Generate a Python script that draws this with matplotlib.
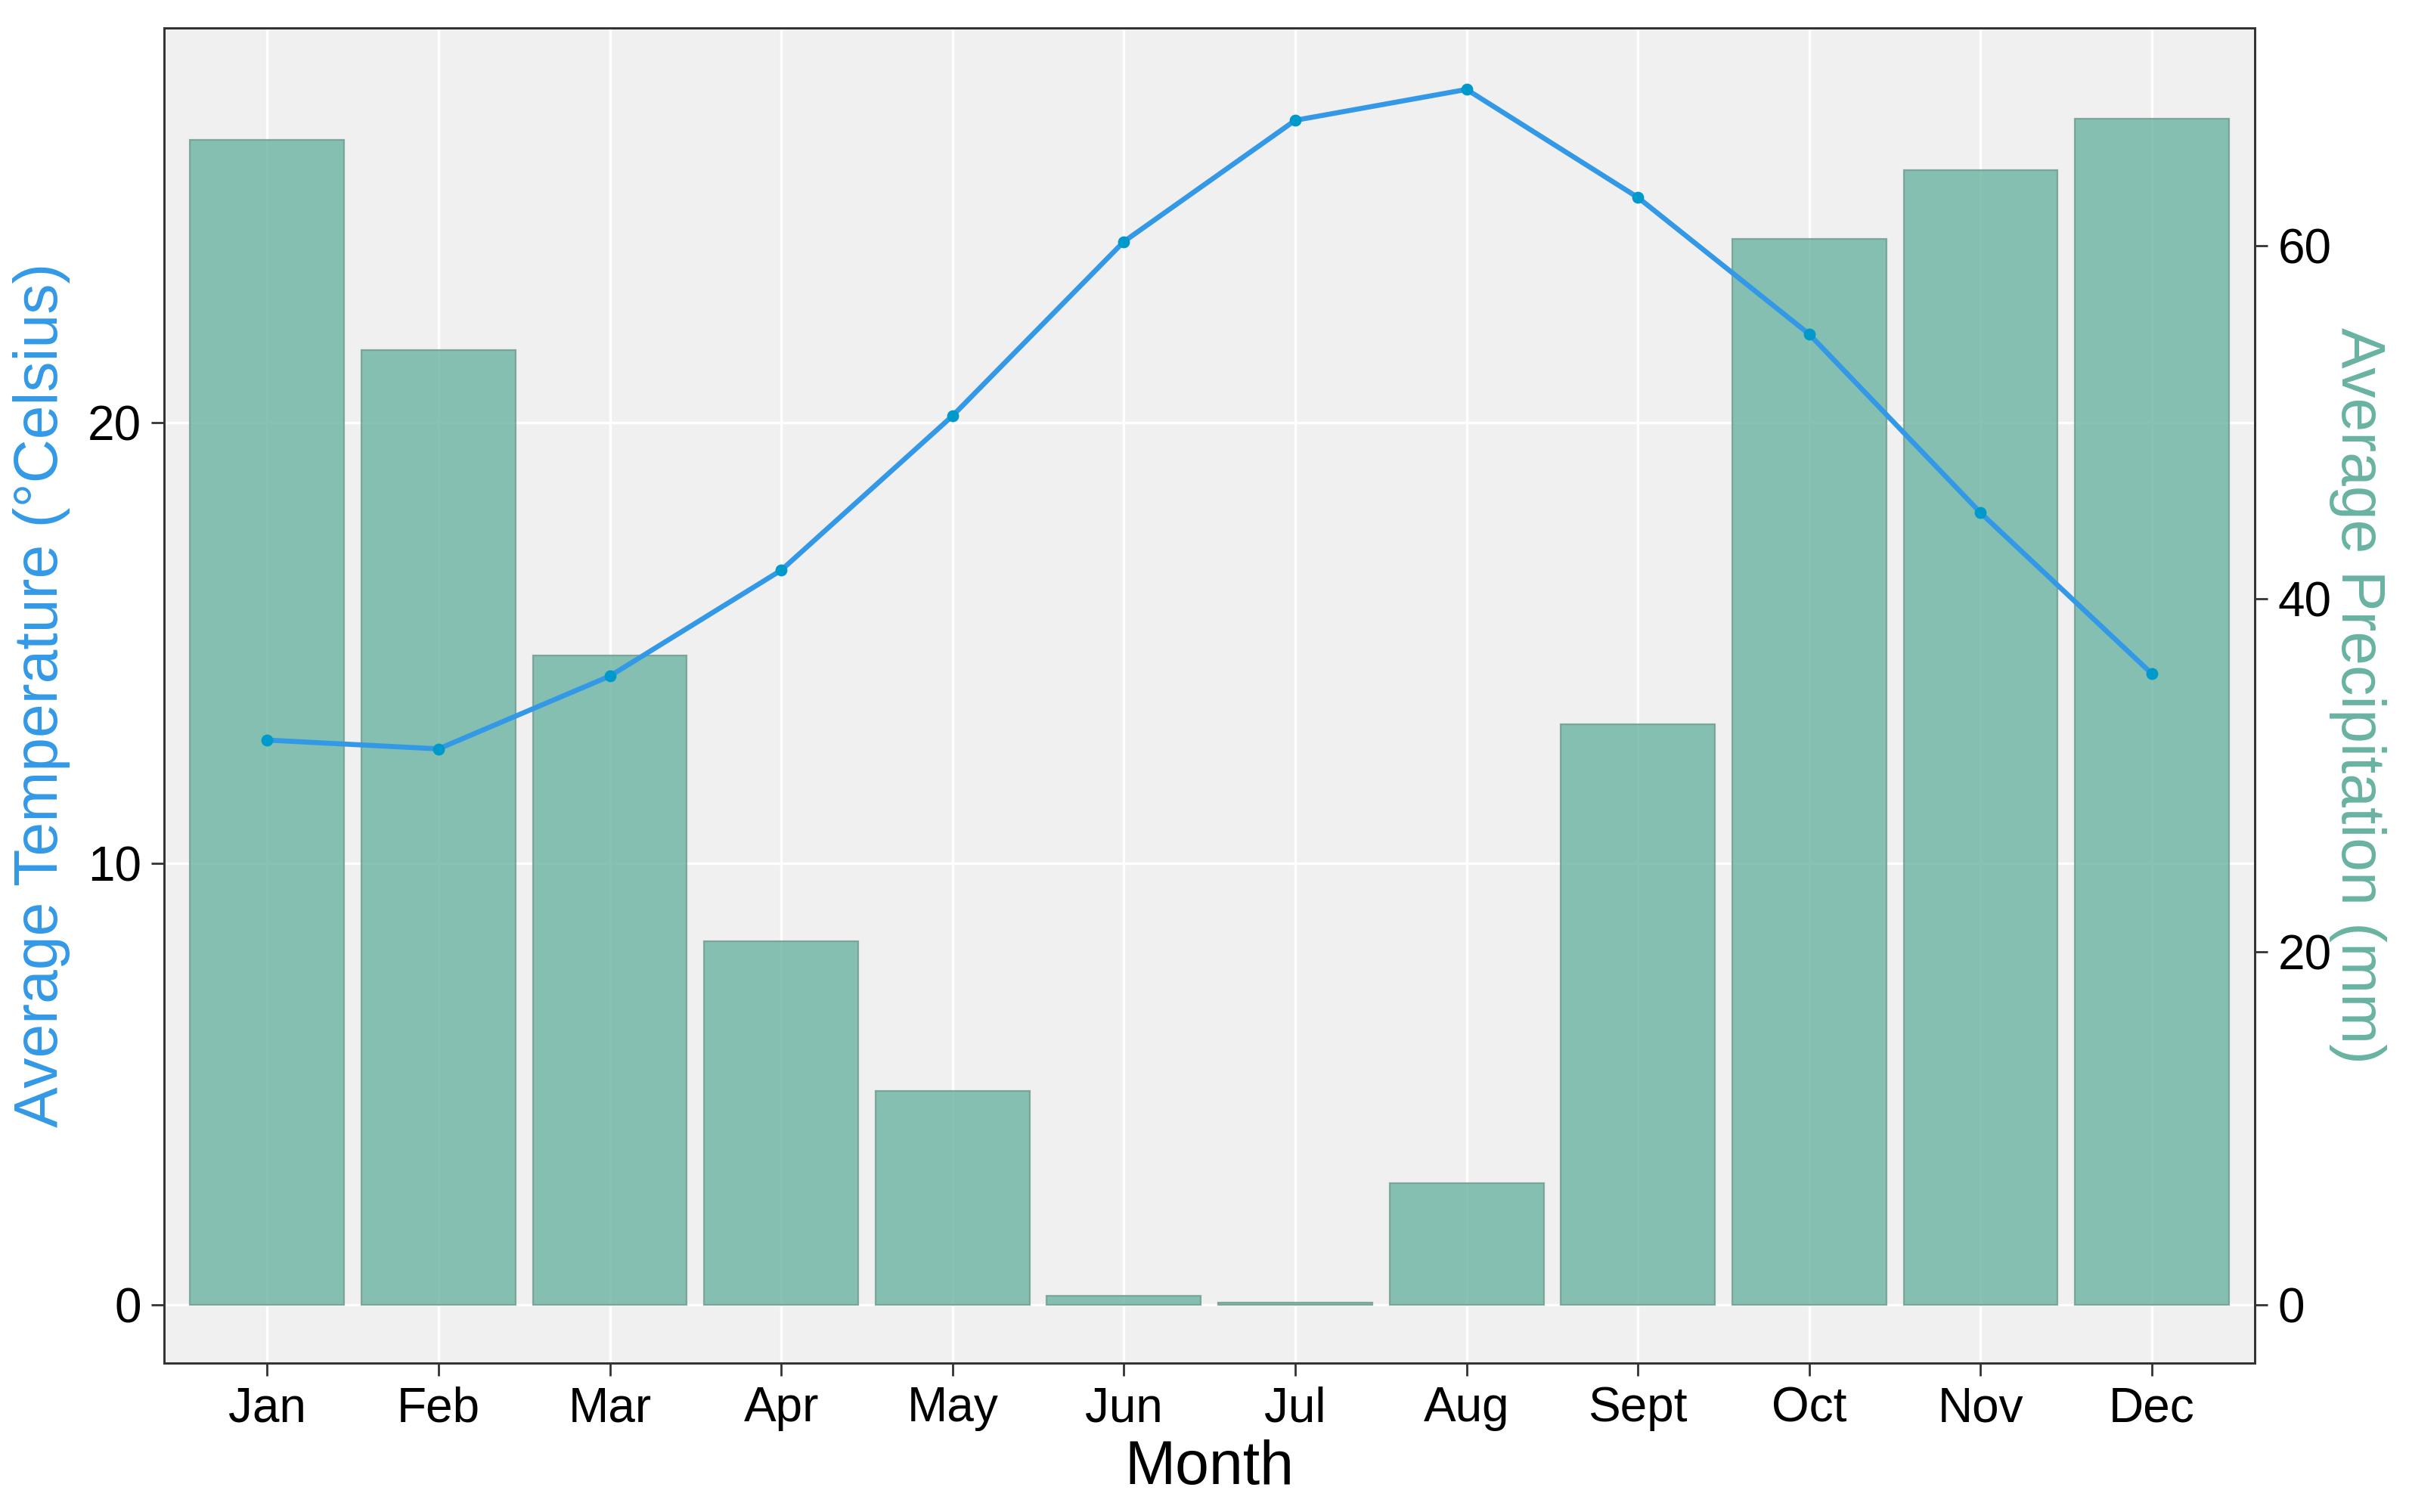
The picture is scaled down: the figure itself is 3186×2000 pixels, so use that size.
import matplotlib
matplotlib.use("Agg")
import matplotlib.pyplot as plt
import numpy as np

months = ["Jan", "Feb", "Mar", "Apr", "May", "Jun", "Jul", "Aug", "Sept", "Oct", "Nov", "Dec"]
temperature = [12.8, 12.6, 14.25, 16.65, 20.15, 24.1, 26.85, 27.55, 25.1, 22.0, 17.95, 14.3]
precipitation = [66.0, 54.1, 36.8, 20.6, 12.1, 0.5, 0.1, 6.9, 32.9, 60.4, 64.3, 67.2]

left_ticks = [0, 10, 20]
right_ticks = [0, 20, 40, 60]
coeff = 2.5  # precipitation = temperature * coeff

temp_color = "#3399E6"
precip_color = "#69b3a2"

plt.rcParams['font.family'] = ['Liberation Sans', 'DejaVu Sans']

fig = plt.figure(figsize=(15.93, 10.0), dpi=200)
ax = fig.add_axes([0.0682, 0.0986, 0.936 - 0.0682, 0.9817 - 0.0986])
ax.set_facecolor("#F0F0F0")

x = np.arange(len(months))
prec_scaled = [p / coeff for p in precipitation]
ax.bar(x, prec_scaled, width=0.9, color=precip_color, alpha=0.8,
       edgecolor="#6f9a8e", linewidth=0.8, zorder=2)
ax.plot(x, temperature, color=temp_color, linewidth=2.4, zorder=3)
ax.scatter(x, temperature, color="#0099CC", s=22, zorder=4)

ax.set_xlim(-0.6, len(months) - 0.4)
ax.set_ylim(-1.32, 28.95)
ax.set_xticks(x)
ax.set_xticklabels(months, fontsize=23)
ax.set_yticks(left_ticks)
ax.set_yticklabels([str(t) for t in left_ticks], fontsize=23)
ax.grid(True, color="white", linewidth=1.2, zorder=0)
ax.set_axisbelow(True)
for s in ax.spines.values():
    s.set_color("#333333")
    s.set_linewidth(1.0)
ax.tick_params(axis="both", length=6, width=1.0, color="#333333", pad=5)

ax.set_xlabel("Month", fontsize=29, labelpad=4)
ax.set_ylabel("Average Temperature (°Celsius)", fontsize=29, color=temp_color, labelpad=8)

ax2 = ax.twinx()
lo, hi = ax.get_ylim()
ax2.set_ylim(lo * coeff, hi * coeff)
ax2.set_yticks(right_ticks)
ax2.set_yticklabels([str(t) for t in right_ticks], fontsize=23)
ax2.tick_params(axis="y", length=6, width=1.0, color="#333333", pad=5)
for s in ax2.spines.values():
    s.set_color("#333333")
    s.set_linewidth(1.0)
ax2.set_ylabel("Average Precipitation (mm)", fontsize=29, color=precip_color,
               rotation=270, labelpad=26)

fig.savefig("out.png", dpi=200, facecolor="white")
